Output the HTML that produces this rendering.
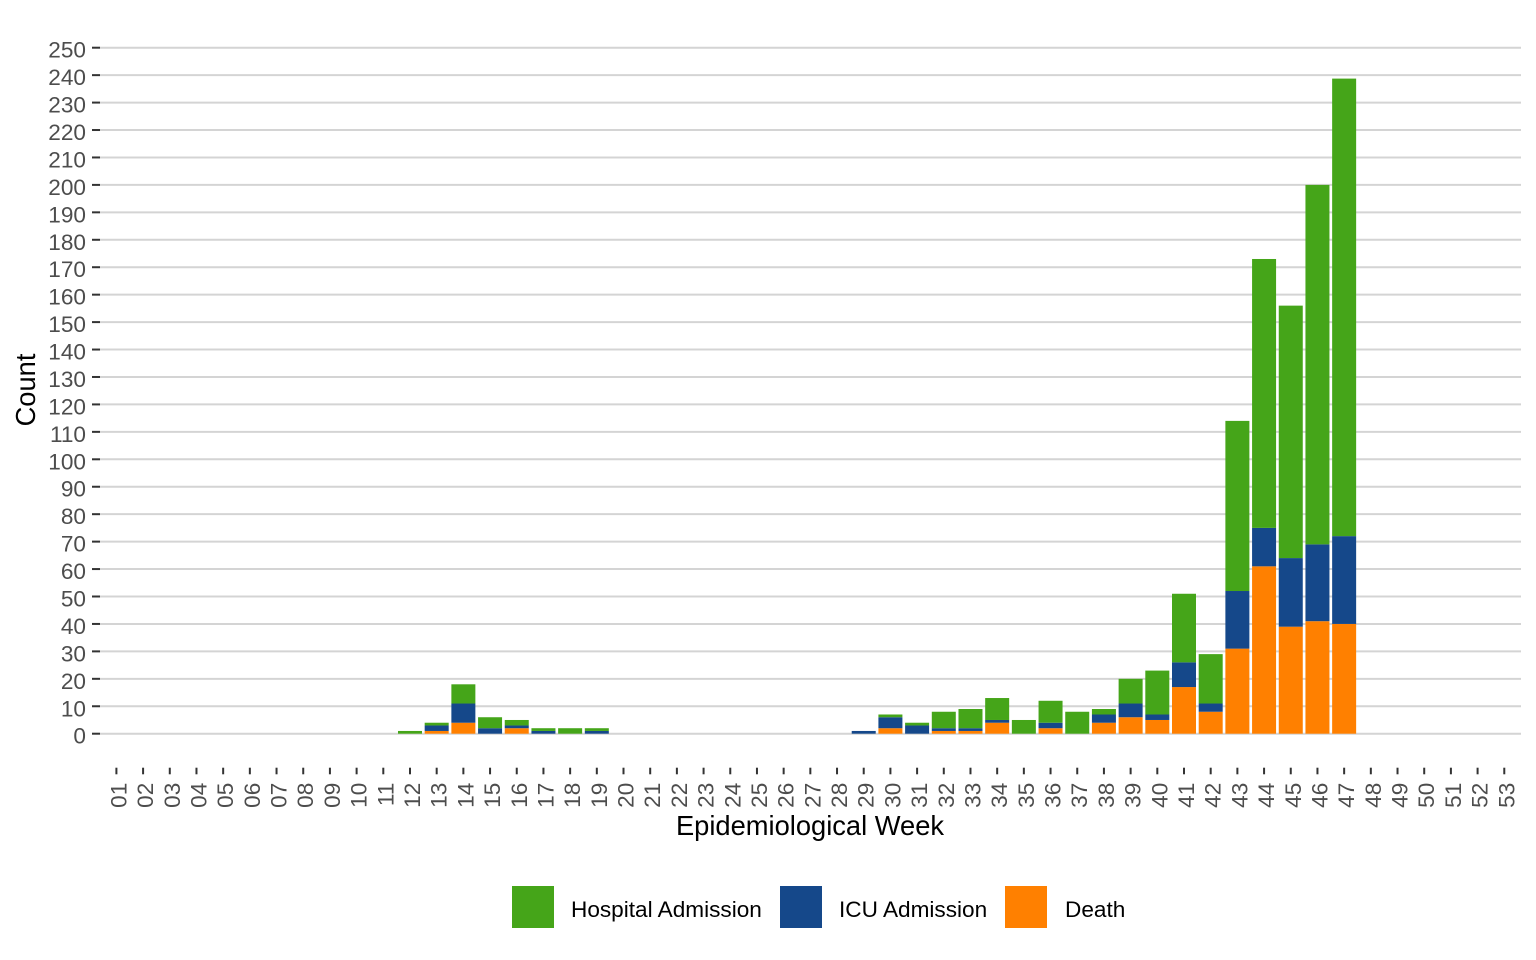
<!DOCTYPE html>
<html><head><meta charset="utf-8"><style>
html,body{margin:0;padding:0;background:#fff;}
svg{display:block;}
text{font-family:"Liberation Sans",Arial,sans-serif;}
.yl{font-size:22.6px;fill:#4D4D4D;text-anchor:end;}
.xl{font-size:22.6px;fill:#4D4D4D;text-anchor:end;}
.g{fill:#45A519}.b{fill:#15488A}.o{fill:#FF8000}
</style></head><body>
<svg width="1536" height="960" viewBox="0 0 1536 960" xmlns="http://www.w3.org/2000/svg">
<rect width="1536" height="960" fill="#fff"/>
<g stroke="#D4D4D4" stroke-width="2">
<line x1="100" x2="1521" y1="733.7" y2="733.7"/>
<line x1="100" x2="1521" y1="706.26" y2="706.26"/>
<line x1="100" x2="1521" y1="678.82" y2="678.82"/>
<line x1="100" x2="1521" y1="651.38" y2="651.38"/>
<line x1="100" x2="1521" y1="623.94" y2="623.94"/>
<line x1="100" x2="1521" y1="596.5" y2="596.5"/>
<line x1="100" x2="1521" y1="569.06" y2="569.06"/>
<line x1="100" x2="1521" y1="541.62" y2="541.62"/>
<line x1="100" x2="1521" y1="514.18" y2="514.18"/>
<line x1="100" x2="1521" y1="486.74" y2="486.74"/>
<line x1="100" x2="1521" y1="459.3" y2="459.3"/>
<line x1="100" x2="1521" y1="431.86" y2="431.86"/>
<line x1="100" x2="1521" y1="404.42" y2="404.42"/>
<line x1="100" x2="1521" y1="376.98" y2="376.98"/>
<line x1="100" x2="1521" y1="349.54" y2="349.54"/>
<line x1="100" x2="1521" y1="322.1" y2="322.1"/>
<line x1="100" x2="1521" y1="294.66" y2="294.66"/>
<line x1="100" x2="1521" y1="267.22" y2="267.22"/>
<line x1="100" x2="1521" y1="239.78" y2="239.78"/>
<line x1="100" x2="1521" y1="212.34" y2="212.34"/>
<line x1="100" x2="1521" y1="184.9" y2="184.9"/>
<line x1="100" x2="1521" y1="157.46" y2="157.46"/>
<line x1="100" x2="1521" y1="130.02" y2="130.02"/>
<line x1="100" x2="1521" y1="102.58" y2="102.58"/>
<line x1="100" x2="1521" y1="75.14" y2="75.14"/>
<line x1="100" x2="1521" y1="47.7" y2="47.7"/>
</g>
<g stroke="#333" stroke-width="2">
<line x1="92" x2="100" y1="733.7" y2="733.7"/>
<line x1="92" x2="100" y1="706.26" y2="706.26"/>
<line x1="92" x2="100" y1="678.82" y2="678.82"/>
<line x1="92" x2="100" y1="651.38" y2="651.38"/>
<line x1="92" x2="100" y1="623.94" y2="623.94"/>
<line x1="92" x2="100" y1="596.5" y2="596.5"/>
<line x1="92" x2="100" y1="569.06" y2="569.06"/>
<line x1="92" x2="100" y1="541.62" y2="541.62"/>
<line x1="92" x2="100" y1="514.18" y2="514.18"/>
<line x1="92" x2="100" y1="486.74" y2="486.74"/>
<line x1="92" x2="100" y1="459.3" y2="459.3"/>
<line x1="92" x2="100" y1="431.86" y2="431.86"/>
<line x1="92" x2="100" y1="404.42" y2="404.42"/>
<line x1="92" x2="100" y1="376.98" y2="376.98"/>
<line x1="92" x2="100" y1="349.54" y2="349.54"/>
<line x1="92" x2="100" y1="322.1" y2="322.1"/>
<line x1="92" x2="100" y1="294.66" y2="294.66"/>
<line x1="92" x2="100" y1="267.22" y2="267.22"/>
<line x1="92" x2="100" y1="239.78" y2="239.78"/>
<line x1="92" x2="100" y1="212.34" y2="212.34"/>
<line x1="92" x2="100" y1="184.9" y2="184.9"/>
<line x1="92" x2="100" y1="157.46" y2="157.46"/>
<line x1="92" x2="100" y1="130.02" y2="130.02"/>
<line x1="92" x2="100" y1="102.58" y2="102.58"/>
<line x1="92" x2="100" y1="75.14" y2="75.14"/>
<line x1="92" x2="100" y1="47.7" y2="47.7"/>
</g>
<g class="yl">
<text x="86" y="743.7">0</text>
<text x="86" y="716.26">10</text>
<text x="86" y="688.82">20</text>
<text x="86" y="661.38">30</text>
<text x="86" y="633.94">40</text>
<text x="86" y="606.5">50</text>
<text x="86" y="579.06">60</text>
<text x="86" y="551.62">70</text>
<text x="86" y="524.18">80</text>
<text x="86" y="496.74">90</text>
<text x="86" y="469.3">100</text>
<text x="86" y="441.86">110</text>
<text x="86" y="414.42">120</text>
<text x="86" y="386.98">130</text>
<text x="86" y="359.54">140</text>
<text x="86" y="332.1">150</text>
<text x="86" y="304.66">160</text>
<text x="86" y="277.22">170</text>
<text x="86" y="249.78">180</text>
<text x="86" y="222.34">190</text>
<text x="86" y="194.9">200</text>
<text x="86" y="167.46">210</text>
<text x="86" y="140.02">220</text>
<text x="86" y="112.58">230</text>
<text x="86" y="85.14">240</text>
<text x="86" y="57.7">250</text>
</g>
<!-- bars -->
<g>
<rect class="g" x="397.99" y="730.956" width="24" height="2.744"/>

<rect class="o" x="424.68" y="730.956" width="24" height="2.744"/>
<rect class="b" x="424.68" y="725.468" width="24" height="5.488"/>
<rect class="g" x="424.68" y="722.724" width="24" height="2.744"/>

<rect class="o" x="451.37" y="722.724" width="24" height="10.976"/>
<rect class="b" x="451.37" y="703.516" width="24" height="19.208"/>
<rect class="g" x="451.37" y="684.308" width="24" height="19.208"/>

<rect class="b" x="478.06" y="728.212" width="24" height="5.488"/>
<rect class="g" x="478.06" y="717.236" width="24" height="10.976"/>

<rect class="o" x="504.75" y="728.212" width="24" height="5.488"/>
<rect class="b" x="504.75" y="725.468" width="24" height="2.744"/>
<rect class="g" x="504.75" y="719.98" width="24" height="5.488"/>

<rect class="b" x="531.44" y="730.956" width="24" height="2.744"/>
<rect class="g" x="531.44" y="728.212" width="24" height="2.744"/>

<rect class="g" x="558.13" y="728.212" width="24" height="5.488"/>

<rect class="b" x="584.82" y="730.956" width="24" height="2.744"/>
<rect class="g" x="584.82" y="728.212" width="24" height="2.744"/>

<rect class="b" x="851.72" y="730.956" width="24" height="2.744"/>

<rect class="o" x="878.41" y="728.212" width="24" height="5.488"/>
<rect class="b" x="878.41" y="717.236" width="24" height="10.976"/>
<rect class="g" x="878.41" y="714.492" width="24" height="2.744"/>

<rect class="b" x="905.10" y="725.468" width="24" height="8.232"/>
<rect class="g" x="905.10" y="722.724" width="24" height="2.744"/>

<rect class="o" x="931.79" y="730.956" width="24" height="2.744"/>
<rect class="b" x="931.79" y="728.212" width="24" height="2.744"/>
<rect class="g" x="931.79" y="711.748" width="24" height="16.464"/>

<rect class="o" x="958.48" y="730.956" width="24" height="2.744"/>
<rect class="b" x="958.48" y="728.212" width="24" height="2.744"/>
<rect class="g" x="958.48" y="709.004" width="24" height="19.208"/>

<rect class="o" x="985.17" y="722.724" width="24" height="10.976"/>
<rect class="b" x="985.17" y="719.98" width="24" height="2.744"/>
<rect class="g" x="985.17" y="698.028" width="24" height="21.952"/>

<rect class="g" x="1011.86" y="719.98" width="24" height="13.72"/>

<rect class="o" x="1038.55" y="728.212" width="24" height="5.488"/>
<rect class="b" x="1038.55" y="722.724" width="24" height="5.488"/>
<rect class="g" x="1038.55" y="700.772" width="24" height="21.952"/>

<rect class="g" x="1065.24" y="711.748" width="24" height="21.952"/>

<rect class="o" x="1091.93" y="722.724" width="24" height="10.976"/>
<rect class="b" x="1091.93" y="714.492" width="24" height="8.232"/>
<rect class="g" x="1091.93" y="709.004" width="24" height="5.488"/>

<rect class="o" x="1118.62" y="717.236" width="24" height="16.464"/>
<rect class="b" x="1118.62" y="703.516" width="24" height="13.72"/>
<rect class="g" x="1118.62" y="678.82" width="24" height="24.696"/>

<rect class="o" x="1145.31" y="719.98" width="24" height="13.72"/>
<rect class="b" x="1145.31" y="714.492" width="24" height="5.488"/>
<rect class="g" x="1145.31" y="670.588" width="24" height="43.904"/>

<rect class="o" x="1172.00" y="687.052" width="24" height="46.648"/>
<rect class="b" x="1172.00" y="662.356" width="24" height="24.696"/>
<rect class="g" x="1172.00" y="593.756" width="24" height="68.6"/>

<rect class="o" x="1198.69" y="711.748" width="24" height="21.952"/>
<rect class="b" x="1198.69" y="703.516" width="24" height="8.232"/>
<rect class="g" x="1198.69" y="654.124" width="24" height="49.392"/>

<rect class="o" x="1225.38" y="648.636" width="24" height="85.064"/>
<rect class="b" x="1225.38" y="591.012" width="24" height="57.624"/>
<rect class="g" x="1225.38" y="420.884" width="24" height="170.128"/>

<rect class="o" x="1252.07" y="566.316" width="24" height="167.384"/>
<rect class="b" x="1252.07" y="527.9" width="24" height="38.416"/>
<rect class="g" x="1252.07" y="258.988" width="24" height="268.912"/>

<rect class="o" x="1278.76" y="626.684" width="24" height="107.016"/>
<rect class="b" x="1278.76" y="558.084" width="24" height="68.6"/>
<rect class="g" x="1278.76" y="305.636" width="24" height="252.448"/>

<rect class="o" x="1305.45" y="621.196" width="24" height="112.504"/>
<rect class="b" x="1305.45" y="544.364" width="24" height="76.832"/>
<rect class="g" x="1305.45" y="184.9" width="24" height="359.464"/>

<rect class="o" x="1332.14" y="623.94" width="24" height="109.76"/>
<rect class="b" x="1332.14" y="536.132" width="24" height="87.808"/>
<rect class="g" x="1332.14" y="78.6" width="24" height="457.532"/>
</g>
<!-- x ticks -->
<g stroke="#333" stroke-width="2">
<line x1="116.4" x2="116.4" y1="767.7" y2="774.3"/>
<line x1="143.09" x2="143.09" y1="767.7" y2="774.3"/>
<line x1="169.78" x2="169.78" y1="767.7" y2="774.3"/>
<line x1="196.47" x2="196.47" y1="767.7" y2="774.3"/>
<line x1="223.16" x2="223.16" y1="767.7" y2="774.3"/>
<line x1="249.85" x2="249.85" y1="767.7" y2="774.3"/>
<line x1="276.54" x2="276.54" y1="767.7" y2="774.3"/>
<line x1="303.23" x2="303.23" y1="767.7" y2="774.3"/>
<line x1="329.92" x2="329.92" y1="767.7" y2="774.3"/>
<line x1="356.61" x2="356.61" y1="767.7" y2="774.3"/>
<line x1="383.30" x2="383.30" y1="767.7" y2="774.3"/>
<line x1="409.99" x2="409.99" y1="767.7" y2="774.3"/>
<line x1="436.68" x2="436.68" y1="767.7" y2="774.3"/>
<line x1="463.37" x2="463.37" y1="767.7" y2="774.3"/>
<line x1="490.06" x2="490.06" y1="767.7" y2="774.3"/>
<line x1="516.75" x2="516.75" y1="767.7" y2="774.3"/>
<line x1="543.44" x2="543.44" y1="767.7" y2="774.3"/>
<line x1="570.13" x2="570.13" y1="767.7" y2="774.3"/>
<line x1="596.82" x2="596.82" y1="767.7" y2="774.3"/>
<line x1="623.51" x2="623.51" y1="767.7" y2="774.3"/>
<line x1="650.20" x2="650.20" y1="767.7" y2="774.3"/>
<line x1="676.89" x2="676.89" y1="767.7" y2="774.3"/>
<line x1="703.58" x2="703.58" y1="767.7" y2="774.3"/>
<line x1="730.27" x2="730.27" y1="767.7" y2="774.3"/>
<line x1="756.96" x2="756.96" y1="767.7" y2="774.3"/>
<line x1="783.65" x2="783.65" y1="767.7" y2="774.3"/>
<line x1="810.34" x2="810.34" y1="767.7" y2="774.3"/>
<line x1="837.03" x2="837.03" y1="767.7" y2="774.3"/>
<line x1="863.72" x2="863.72" y1="767.7" y2="774.3"/>
<line x1="890.41" x2="890.41" y1="767.7" y2="774.3"/>
<line x1="917.10" x2="917.10" y1="767.7" y2="774.3"/>
<line x1="943.79" x2="943.79" y1="767.7" y2="774.3"/>
<line x1="970.48" x2="970.48" y1="767.7" y2="774.3"/>
<line x1="997.17" x2="997.17" y1="767.7" y2="774.3"/>
<line x1="1023.86" x2="1023.86" y1="767.7" y2="774.3"/>
<line x1="1050.55" x2="1050.55" y1="767.7" y2="774.3"/>
<line x1="1077.24" x2="1077.24" y1="767.7" y2="774.3"/>
<line x1="1103.93" x2="1103.93" y1="767.7" y2="774.3"/>
<line x1="1130.62" x2="1130.62" y1="767.7" y2="774.3"/>
<line x1="1157.31" x2="1157.31" y1="767.7" y2="774.3"/>
<line x1="1184.00" x2="1184.00" y1="767.7" y2="774.3"/>
<line x1="1210.69" x2="1210.69" y1="767.7" y2="774.3"/>
<line x1="1237.38" x2="1237.38" y1="767.7" y2="774.3"/>
<line x1="1264.07" x2="1264.07" y1="767.7" y2="774.3"/>
<line x1="1290.76" x2="1290.76" y1="767.7" y2="774.3"/>
<line x1="1317.45" x2="1317.45" y1="767.7" y2="774.3"/>
<line x1="1344.14" x2="1344.14" y1="767.7" y2="774.3"/>
<line x1="1370.83" x2="1370.83" y1="767.7" y2="774.3"/>
<line x1="1397.52" x2="1397.52" y1="767.7" y2="774.3"/>
<line x1="1424.21" x2="1424.21" y1="767.7" y2="774.3"/>
<line x1="1450.90" x2="1450.90" y1="767.7" y2="774.3"/>
<line x1="1477.59" x2="1477.59" y1="767.7" y2="774.3"/>
<line x1="1504.28" x2="1504.28" y1="767.7" y2="774.3"/>
</g>
<g class="xl">
<text transform="translate(126.4,782.7) rotate(-90)">01</text>
<text transform="translate(153.09,782.7) rotate(-90)">02</text>
<text transform="translate(179.78,782.7) rotate(-90)">03</text>
<text transform="translate(206.47,782.7) rotate(-90)">04</text>
<text transform="translate(233.16,782.7) rotate(-90)">05</text>
<text transform="translate(259.85,782.7) rotate(-90)">06</text>
<text transform="translate(286.54,782.7) rotate(-90)">07</text>
<text transform="translate(313.23,782.7) rotate(-90)">08</text>
<text transform="translate(339.92,782.7) rotate(-90)">09</text>
<text transform="translate(366.61,782.7) rotate(-90)">10</text>
<text transform="translate(393.30,782.7) rotate(-90)">11</text>
<text transform="translate(419.99,782.7) rotate(-90)">12</text>
<text transform="translate(446.68,782.7) rotate(-90)">13</text>
<text transform="translate(473.37,782.7) rotate(-90)">14</text>
<text transform="translate(500.06,782.7) rotate(-90)">15</text>
<text transform="translate(526.75,782.7) rotate(-90)">16</text>
<text transform="translate(553.44,782.7) rotate(-90)">17</text>
<text transform="translate(580.13,782.7) rotate(-90)">18</text>
<text transform="translate(606.82,782.7) rotate(-90)">19</text>
<text transform="translate(633.51,782.7) rotate(-90)">20</text>
<text transform="translate(660.20,782.7) rotate(-90)">21</text>
<text transform="translate(686.89,782.7) rotate(-90)">22</text>
<text transform="translate(713.58,782.7) rotate(-90)">23</text>
<text transform="translate(740.27,782.7) rotate(-90)">24</text>
<text transform="translate(766.96,782.7) rotate(-90)">25</text>
<text transform="translate(793.65,782.7) rotate(-90)">26</text>
<text transform="translate(820.34,782.7) rotate(-90)">27</text>
<text transform="translate(847.03,782.7) rotate(-90)">28</text>
<text transform="translate(873.72,782.7) rotate(-90)">29</text>
<text transform="translate(900.41,782.7) rotate(-90)">30</text>
<text transform="translate(927.10,782.7) rotate(-90)">31</text>
<text transform="translate(953.79,782.7) rotate(-90)">32</text>
<text transform="translate(980.48,782.7) rotate(-90)">33</text>
<text transform="translate(1007.17,782.7) rotate(-90)">34</text>
<text transform="translate(1033.86,782.7) rotate(-90)">35</text>
<text transform="translate(1060.55,782.7) rotate(-90)">36</text>
<text transform="translate(1087.24,782.7) rotate(-90)">37</text>
<text transform="translate(1113.93,782.7) rotate(-90)">38</text>
<text transform="translate(1140.62,782.7) rotate(-90)">39</text>
<text transform="translate(1167.31,782.7) rotate(-90)">40</text>
<text transform="translate(1194.00,782.7) rotate(-90)">41</text>
<text transform="translate(1220.69,782.7) rotate(-90)">42</text>
<text transform="translate(1247.38,782.7) rotate(-90)">43</text>
<text transform="translate(1274.07,782.7) rotate(-90)">44</text>
<text transform="translate(1300.76,782.7) rotate(-90)">45</text>
<text transform="translate(1327.45,782.7) rotate(-90)">46</text>
<text transform="translate(1354.14,782.7) rotate(-90)">47</text>
<text transform="translate(1380.83,782.7) rotate(-90)">48</text>
<text transform="translate(1407.52,782.7) rotate(-90)">49</text>
<text transform="translate(1434.21,782.7) rotate(-90)">50</text>
<text transform="translate(1460.90,782.7) rotate(-90)">51</text>
<text transform="translate(1487.59,782.7) rotate(-90)">52</text>
<text transform="translate(1514.28,782.7) rotate(-90)">53</text>
</g>
<text x="810" y="835" font-size="27.3" fill="#000" text-anchor="middle">Epidemiological Week</text>
<text transform="translate(35,390) rotate(-90)" font-size="27.3" fill="#000" text-anchor="middle">Count</text>
<!-- legend -->
<rect class="g" x="512" y="886" width="42" height="42"/>
<rect class="b" x="780" y="886" width="42" height="42"/>
<rect class="o" x="1005" y="886" width="42" height="42"/>
<g font-size="22.6" fill="#000">
<text x="571" y="917">Hospital Admission</text>
<text x="839" y="917">ICU Admission</text>
<text x="1065" y="917">Death</text>
</g>
</svg>
</body></html>
